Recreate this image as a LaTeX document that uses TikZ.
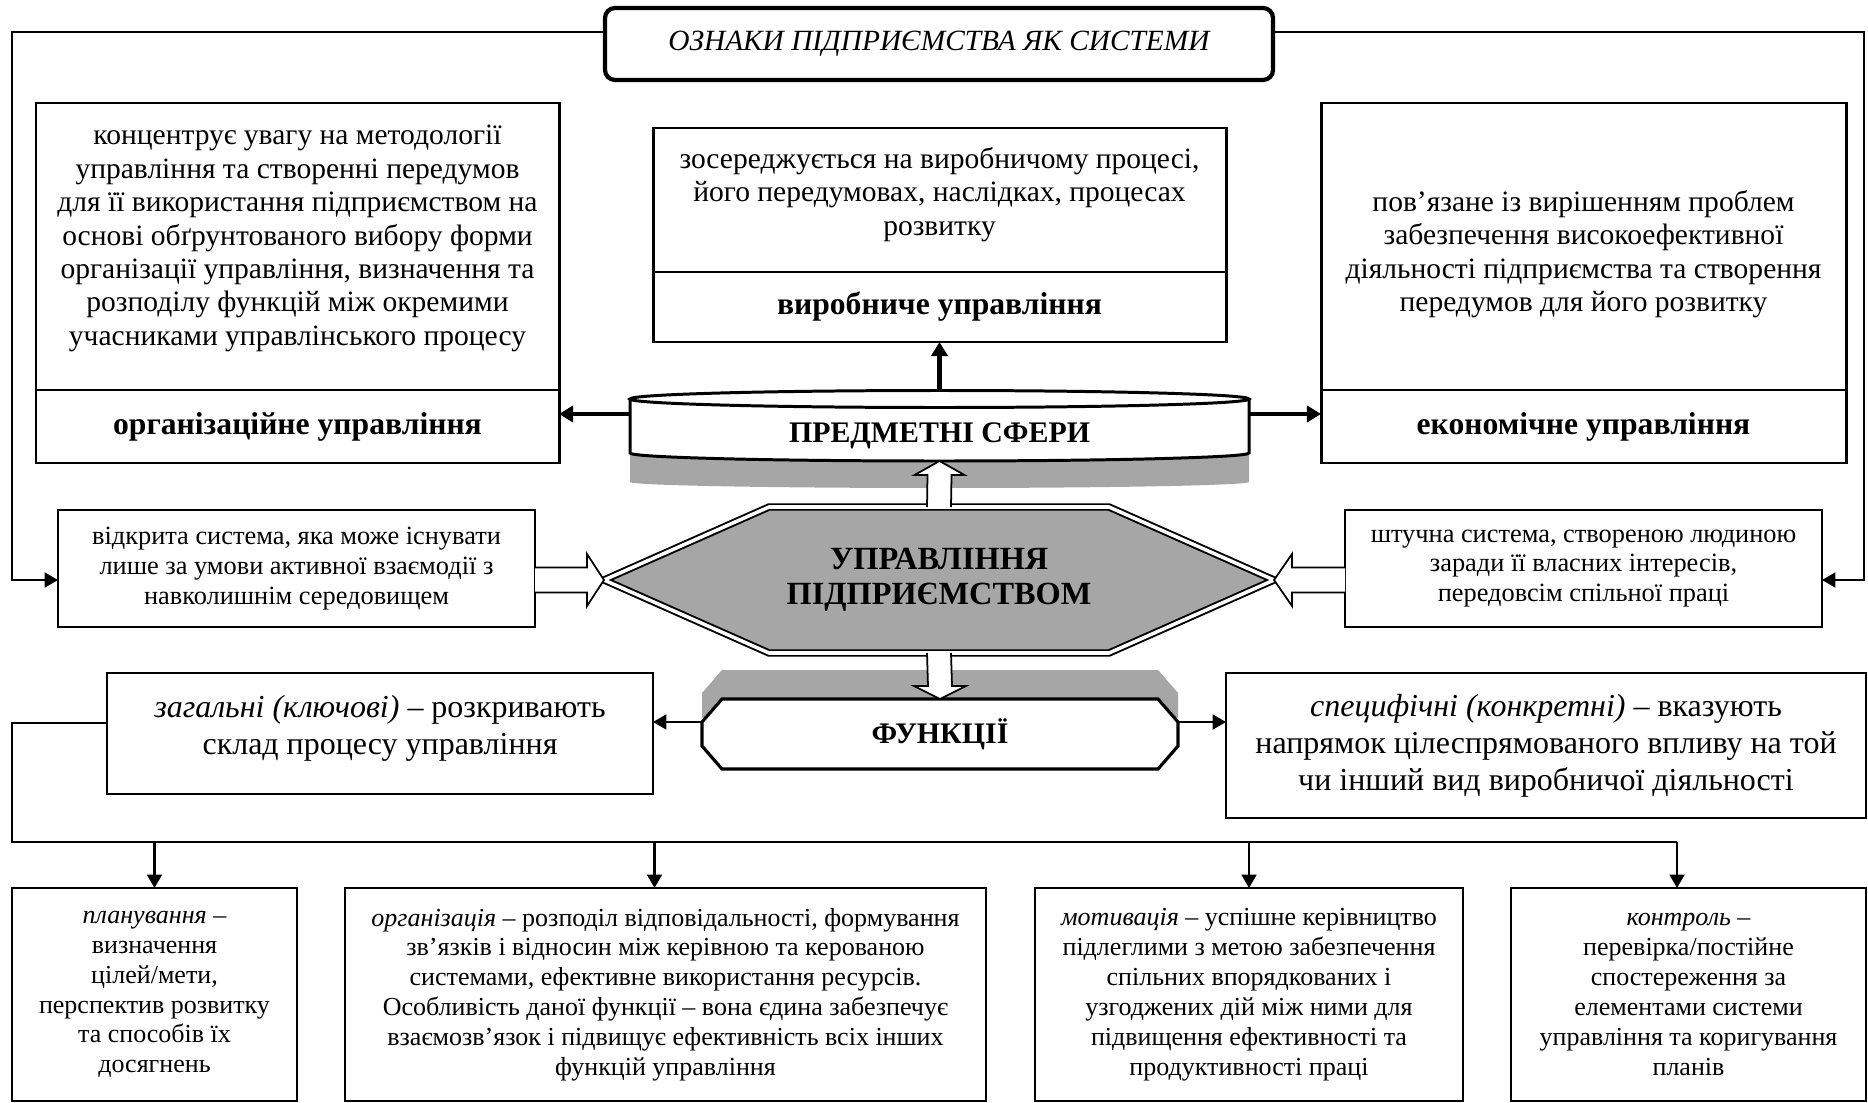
\documentclass[tikz,border=0pt]{standalone}
\usepackage{fontspec}
\setmainfont{Liberation Serif}
\usepackage{tikz}
\usetikzlibrary{arrows.meta, positioning, calc}
\tikzset{
    titlebox/.style={rectangle, rounded corners=0.1cm, draw, line width=1.2pt, minimum width=6.68cm, minimum height=0.72cm, inner sep=0pt, outer sep=0pt, font=\fontsize{8.35}{10}\selectfont\itshape},
    descbox/.style={rectangle, draw, line width=0.85pt, align=center, inner sep=0pt, outer sep=0pt, font=\fontsize{8.4}{9.5}\selectfont},
    labelbox/.style={rectangle, draw, line width=0.85pt, inner sep=0pt, outer sep=0pt, font=\fontsize{9}{10}\selectfont\bfseries},
    sidebox/.style={rectangle, draw, line width=0.7pt, align=center, minimum width=4.77cm, minimum height=1.17cm, inner sep=0pt, outer sep=0pt, font=\fontsize{7.5}{8.5}\selectfont},
    kindbox/.style={rectangle, draw, line width=0.8pt, align=center, inner sep=0pt, outer sep=0pt, font=\fontsize{9.1}{10.5}\selectfont},
    stepbox/.style={rectangle, draw, line width=0.7pt, align=center, minimum height=2.13cm, inner sep=0pt, outer sep=0pt, font=\fontsize{7.4}{8.5}\selectfont},
    spherelabel/.style={rectangle, minimum width=6.19cm, minimum height=0.70cm, inner sep=0pt, outer sep=0pt, text height=9.6pt, text depth=0pt, font=\fontsize{8.5}{10}\selectfont\bfseries},
    mgmtlabel/.style={rectangle, align=center, minimum width=6.70cm, minimum height=1.46cm, inner sep=0pt, outer sep=0pt, font=\fontsize{9.2}{10}\selectfont\bfseries},
    funclabel/.style={rectangle, minimum width=4.76cm, minimum height=0.70cm, inner sep=0pt, outer sep=0pt, font=\fontsize{8.5}{10}\selectfont\bfseries},
    funcline/.style={draw, line width=0.9pt, fill=white},
    hexline/.style={draw, line width=0.55pt, double, double distance=1pt, fill=gray!70},
    hollow/.style={draw, fill=white, line width=0.5pt},
    line/.style={line width=0.7pt},
    arrow/.style={-{Triangle[length=3.8pt, width=4.2pt]}, line width=0.7pt},
    boldarrow/.style={-{Triangle[length=4pt, width=4.6pt]}, line width=1.2pt}
}

\begin{document}
\begin{tikzpicture}
\useasboundingbox (0,0) rectangle (18.68,-11.03);

% heading
\node (title) [titlebox] at (9.39,-0.44) {ОЗНАКИ ПІДПРИЄМСТВА ЯК СИСТЕМИ};

% subject areas
\node (orgdesc) [descbox, minimum width=5.23cm, minimum height=2.87cm] at (2.975,-2.465) {концентрує увагу на методології\\управління та створенні передумов\\для її використання підприємством на\\основі обґрунтованого вибору форми\\організації управління, визначення та\\розподілу функцій між окремими\\учасниками управлінського процесу\rule[-6.4pt]{0pt}{6.4pt}};
\node (orglab) [labelbox, minimum width=5.23cm, minimum height=0.73cm, below=0pt of orgdesc] {організаційне управління};

\node (proddesc) [descbox, minimum width=5.73cm, minimum height=1.44cm] at (9.395,-2.00) {зосереджується на виробничому процесі,\\його передумовах, наслідках, процесах\\розвитку\rule[-4.9pt]{0pt}{4.9pt}};
\node (prodlab) [labelbox, minimum width=5.73cm, minimum height=0.70cm, below=0pt of proddesc] {виробниче управління};

\node (ecodesc) [descbox, minimum width=5.25cm, minimum height=2.87cm] at (15.835,-2.465) {\rule{0pt}{10.4pt}пов’язане із вирішенням проблем\\забезпечення високоефективної\\діяльності підприємства та створення\\передумов для його розвитку};
\node (ecolab) [labelbox, minimum width=5.25cm, minimum height=0.73cm, below=0pt of ecodesc] {економічне управління};

% cylinder
\fill[gray!70] (6.30,-4.53) -- (6.30,-4.82) arc[start angle=180, end angle=360, x radius=3.095cm, y radius=0.06cm] -- (12.49,-4.53) -- cycle;
\draw[line width=0.85pt, fill=white] (6.30,-3.99) -- (6.30,-4.53) arc[start angle=180, end angle=360, x radius=3.095cm, y radius=0.08cm] -- (12.49,-3.99);
\draw[line width=0.85pt, fill=white] (9.395,-3.99) ellipse[x radius=3.095cm, y radius=0.085cm];
\node (spheres) [spherelabel] at (9.395,-4.26) {ПРЕДМЕТНІ СФЕРИ};

\coordinate (sphL) at ([yshift=0.12cm]spheres.west);
\coordinate (sphR) at ([yshift=0.12cm]spheres.east);
\draw[boldarrow] (sphL) -- (sphL -| orglab.east);
\draw[boldarrow] (sphR) -- (sphR -| ecolab.west);
\draw[boldarrow] (spheres.north) -- (prodlab.south);

% enterprise management
\draw[hexline] (6.04,-5.80) -- (7.69,-5.07) -- (11.09,-5.07) -- (12.74,-5.80) -- (11.09,-6.53) -- (7.69,-6.53) -- cycle
    (9.39,-5.80) node (mgmt) [mgmtlabel] {УПРАВЛІННЯ\\ПІДПРИЄМСТВОМ};

\node (opensys) [sidebox] at (2.965,-5.685) {відкрита система, яка може існувати\\лише за умови активної взаємодії з\\навколишнім середовищем};
\node (artsys) [sidebox] at (15.835,-5.685) {штучна система, створеною людиною\\заради її власних інтересів,\\передовсім спільної праці};

% functions
\fill[gray!70, yshift=0.29cm] (7.02,-7.22) -- (7.22,-6.99) -- (11.58,-6.99) -- (11.78,-7.22) -- (11.78,-7.46) -- (11.58,-7.69) -- (7.22,-7.69) -- (7.02,-7.46) -- cycle;
\draw[funcline] (7.02,-7.22) -- (7.22,-6.99) -- (11.58,-6.99) -- (11.78,-7.22) -- (11.78,-7.46) -- (11.58,-7.69) -- (7.22,-7.69) -- (7.02,-7.46) -- cycle
    (9.40,-7.34) node (funcs) [funclabel] {ФУНКЦІЇ};

% block arrows
\draw[hollow] ($(mgmt.north)+(-0.12,0)$) -- ($(spheres.south)+(-0.12,-0.14)$) -- ($(spheres.south)+(-0.25,-0.14)$) -- (spheres.south) -- ($(spheres.south)+(0.25,-0.14)$) -- ($(spheres.south)+(0.12,-0.14)$) -- ($(mgmt.north)+(0.12,0)$);
\draw[hollow] ($(mgmt.south)+(-0.12,0)$) -- ($(funcs.north)+(-0.12,0.13)$) -- ($(funcs.north)+(-0.26,0.13)$) -- (funcs.north) -- ($(funcs.north)+(0.26,0.13)$) -- ($(funcs.north)+(0.12,0.13)$) -- ($(mgmt.south)+(0.12,0)$);
\draw[hollow] ($(mgmt.west -| opensys.east)+(0,0.125)$) -- ($(mgmt.west)+(-0.17,0.125)$) -- ($(mgmt.west)+(-0.17,0.26)$) -- (mgmt.west) -- ($(mgmt.west)+(-0.17,-0.26)$) -- ($(mgmt.west)+(-0.17,-0.125)$) -- ($(mgmt.west -| opensys.east)+(0,-0.125)$);
\draw[hollow] ($(mgmt.east -| artsys.west)+(0,0.125)$) -- ($(mgmt.east)+(0.18,0.125)$) -- ($(mgmt.east)+(0.18,0.26)$) -- (mgmt.east) -- ($(mgmt.east)+(0.18,-0.26)$) -- ($(mgmt.east)+(0.18,-0.125)$) -- ($(mgmt.east -| artsys.west)+(0,-0.125)$);

% outer rails from the heading
\coordinate (titleL) at ([yshift=0.12cm]title.west);
\coordinate (titleR) at ([yshift=0.12cm]title.east);
\coordinate (leftrail) at (0.12,-5.80);
\coordinate (rightrail) at (18.64,-5.80);
\draw[arrow] (titleL) -| (leftrail) -- (leftrail -| opensys.west);
\draw[arrow] (titleR) -| (rightrail) -- (rightrail -| artsys.east);

% kinds of functions
\node (genfunc) [kindbox, minimum width=5.46cm, minimum height=1.21cm] at (3.80,-7.335) {\textit{загальні (ключові)} – розкривають\\склад процесу управління\rule[-4.8pt]{0pt}{4.8pt}};
\node (specfunc) [kindbox, minimum width=6.40cm, minimum height=1.45cm] at (15.46,-7.455) {\textit{специфічні (конкретні)} – вказують\\напрямок цілеспрямованого впливу на той\\чи інший вид виробничої діяльності};

\coordinate (funcsL) at ([yshift=0.12cm]funcs.west);
\coordinate (funcsR) at ([yshift=0.12cm]funcs.east);
\draw[arrow] (funcsL) -- (funcsL -| genfunc.east);
\draw[arrow] (funcsR) -- (funcsR -| specfunc.west);

% general functions
\node (plan) [stepbox, minimum width=2.85cm] at (1.545,-9.945) {\textit{планування} –\\визначення\\цілей/мети,\\перспектив розвитку\\та способів їх\\досягнень};
\node (orgf) [stepbox, minimum width=6.41cm, right=0.48cm of plan] {\textit{організація} – розподіл відповідальності, формування\\зв’язків і відносин між керівною та керованою\\системами, ефективне використання ресурсів.\\Особливість даної функції – вона єдина забезпечує\\взаємозв’язок і підвищує ефективність всіх інших\\функцій управління};
\node (motiv) [stepbox, minimum width=4.28cm, right=0.49cm of orgf] {\textit{мотивація} – успішне керівництво\\підлеглими з метою забезпечення\\спільних впорядкованих і\\узгоджених дій між ними для\\підвищення ефективності та\\продуктивності праці};
\node (ctrl) [stepbox, minimum width=3.55cm, right=0.48cm of motiv] {\textit{контроль} –\\перевірка/постійне\\спостереження за\\елементами системи\\управління та коригування\\планів};

\coordinate (genL) at ([yshift=0.105cm]genfunc.west);
\coordinate (busL) at (0.12,-8.42);
\coordinate (busR) at (16.77,-8.42);
\coordinate (orgfin) at ([xshift=-0.11cm]orgf.north);
\draw[line] (genL) -| (busL) -- (busR);
\draw[arrow] (busL -| plan.north) -- (plan.north);
\draw[arrow] (orgfin |- busL) -- (orgfin);
\draw[arrow] (busL -| motiv.north) -- (motiv.north);
\draw[arrow] (busR) -- (busR |- ctrl.north);
\end{tikzpicture}
\end{document}
